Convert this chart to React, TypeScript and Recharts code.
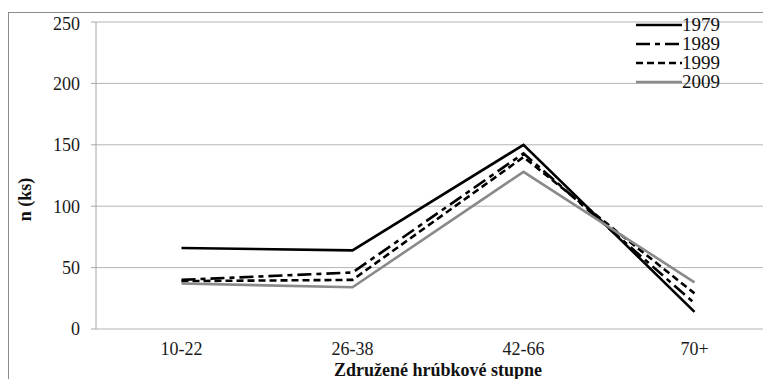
import { CartesianGrid, Line, LineChart, XAxis, YAxis, Label } from "recharts";

const categories = ["10-22", "26-38", "42-66", "70+"];
const v1979 = [66, 64, 150, 14];
const v1989 = [40, 46, 143, 21];
const v1999 = [39, 40, 140, 29];
const v2009 = [37, 34, 128, 38];
const yTicks = [0, 50, 100, 150, 200, 250];

const series = [
    { key: "s1979", name: "1979", values: v1979, color: "#000", dash: undefined as string | undefined },
    { key: "s1989", name: "1989", values: v1989, color: "#000", dash: "14 5 5 5" },
    { key: "s1999", name: "1999", values: v1999, color: "#000", dash: "7 4" },
    { key: "s2009", name: "2009", values: v2009, color: "#8a8a8a", dash: undefined as string | undefined },
];

const data = categories.map((c, i) => {
    const row: Record<string, string | number> = { cat: c, idx: i + 0.5 };
    series.forEach((s) => (row[s.key] = s.values[i]));
    return row;
});

const FONT = "'Liberation Serif', 'DejaVu Serif', serif";

export default function App() {
    return (
        <div style={{ width: 763, height: 371, overflow: "hidden", position: "relative", fontFamily: FONT }}>
            <div
                style={{
                    position: "absolute",
                    top: 4,
                    left: 0,
                    width: 800,
                    height: 400,
                    border: "1px solid #8c8c8c",
                    boxSizing: "border-box",
                }}
            >
                <LineChart
                    width={800}
                    height={370}
                    data={data}
                    margin={{ top: 9, right: 29, bottom: 0, left: 0 }}
                    style={{ fontFamily: FONT }}
                >
                    <CartesianGrid vertical={false} stroke="#b4b4b4" />
                    <XAxis
                        xAxisId="grid"
                        dataKey="idx"
                        type="number"
                        domain={[0, 4]}
                        ticks={[1, 2, 3]}
                        height={0}
                        axisLine={{ stroke: "#a8a8a8" }}
                        tickLine={{ stroke: "#a8a8a8" }}
                        tickSize={5}
                        tickFormatter={() => ""}
                    />
                    <XAxis
                        xAxisId="cat"
                        dataKey="cat"
                        scale="band"
                        height={54}
                        axisLine={false}
                        tickLine={false}
                        tick={{ fill: "#1a1a1a", fontSize: 18, fontFamily: FONT }}
                        dy={5}
                    >
                        <Label
                            value="Združené hrúbkové stupne"
                            position="insideBottom"
                            offset={7}
                            style={{ fill: "#111", fontSize: 18, fontWeight: 700, fontFamily: FONT }}
                        />
                    </XAxis>
                    <YAxis
                        width={87}
                        domain={[0, 250]}
                        ticks={yTicks}
                        axisLine={{ stroke: "#a8a8a8" }}
                        tickLine={{ stroke: "#a8a8a8" }}
                        tickSize={5}
                        tickMargin={11}
                        tick={{ fill: "#1a1a1a", fontSize: 18, fontFamily: FONT }}
                    >
                        <Label
                            value="n (ks)"
                            angle={-90}
                            position="insideLeft"
                            offset={16}
                            dy={24}
                            style={{ fill: "#111", fontSize: 18, fontWeight: 700, fontFamily: FONT, textAnchor: "middle" }}
                        />
                    </YAxis>
                    {series.map((s) => (
                        <Line
                            key={s.key}
                            xAxisId="cat"
                            dataKey={s.key}
                            name={s.name}
                            stroke={s.color}
                            strokeWidth={2.6}
                            strokeDasharray={s.dash}
                            dot={false}
                            activeDot={false}
                            isAnimationActive={false}
                        />
                    ))}
                </LineChart>
                <div style={{ position: "absolute", left: 627, top: 2 }}>
                    {series.map((s) => (
                        <div key={s.key} style={{ display: "flex", alignItems: "center", height: 19 }}>
                            <svg width={46} height={6}>
                                <line
                                    x1={0}
                                    y1={3}
                                    x2={46}
                                    y2={3}
                                    stroke={s.color}
                                    strokeWidth={2.6}
                                    strokeDasharray={s.dash}
                                />
                            </svg>
                            <span style={{ fontSize: 19, color: "#111", lineHeight: "19px" }}>{s.name}</span>
                        </div>
                    ))}
                </div>
            </div>
        </div>
    );
}
